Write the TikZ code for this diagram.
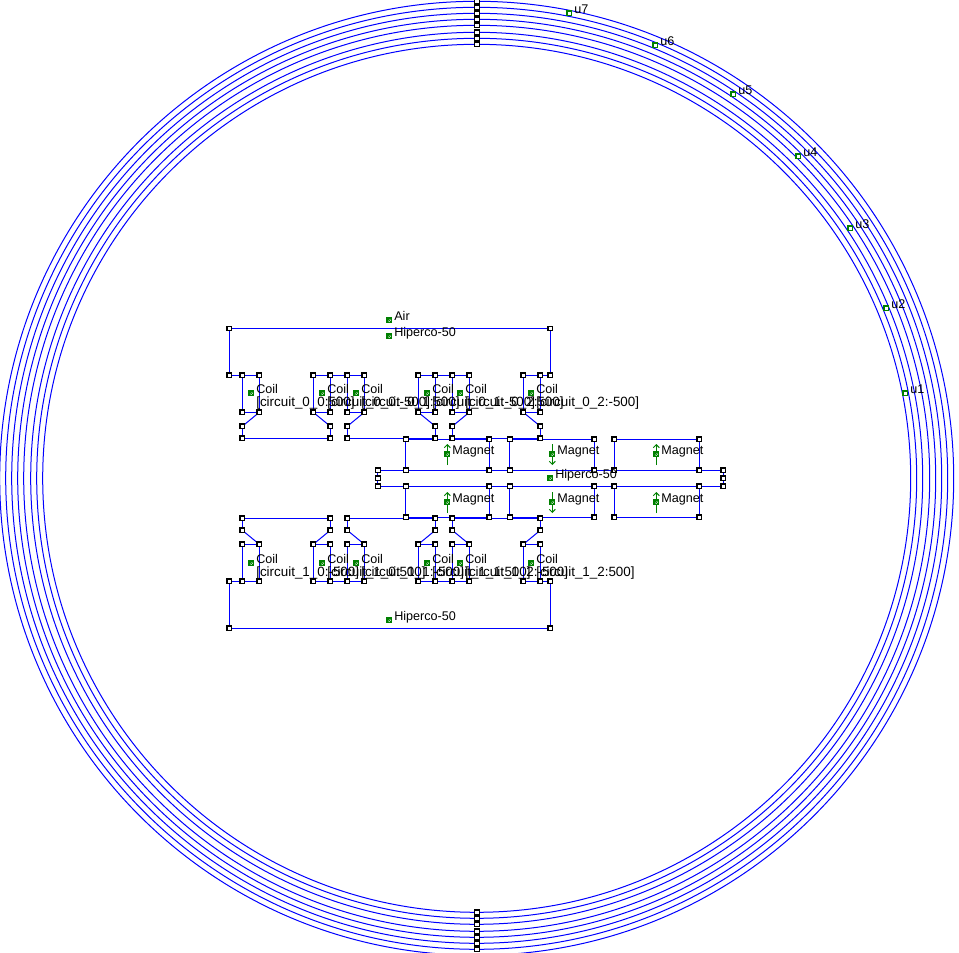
\documentclass[tikz,border=0pt]{standalone}
\usepackage{fontspec}
\setmainfont{Liberation Sans}
\usetikzlibrary{backgrounds,arrows.meta}
\definecolor{femmblue}{RGB}{0,0,255}
\definecolor{femmgreen}{RGB}{0,128,0}
\tikzset{
  vertex/.style={draw=black,fill=white,line width=1.1pt,rectangle,minimum size=4.7pt,inner sep=0pt,outer sep=0pt},
  edge/.style={draw=femmblue,line width=1pt},
  ring/.style={draw=femmblue,line width=1pt},
  blockmark/.style={draw=femmgreen,fill=white,line width=1.1pt,rectangle,minimum size=4.6pt,inner sep=0pt,outer sep=0pt,
    path picture={\draw[femmgreen,line width=0.8pt] (path picture bounding box.south west)--(path picture bounding box.north east)
      (path picture bounding box.south east)--(path picture bounding box.north west);}},
  bdrymark/.style={draw=femmgreen,fill=white,line width=1.1pt,rectangle,minimum size=4.7pt,inner sep=0pt,outer sep=0pt},
  lab/.style={anchor=base west,inner sep=0pt,outer sep=0pt,font=\fontsize{12.6}{13}\selectfont,text=black},
  circlab/.style={lab,font=\fontsize{13.4}{14}\selectfont},
  magarrow/.style={draw=femmgreen,line width=1pt,-{Straight Barb[length=3pt,width=6pt]}},
}
\begin{document}
\begin{tikzpicture}[x=1pt,y=-1pt]
\useasboundingbox (0,0) rectangle (959,953);
\clip (0,0) rectangle (959,953);
\coordinate (ctr) at (476.7,478.3);

% ring end points
\foreach \n/\y in {t1/44.3,t2/38.3,t3/32.3,t4/25.3,t5/19.3,t6/13.3,t7/7.3,t8/1.3,
                   s1/912.3,s2/918.3,s3/924.3,s4/931.3,s5/937.3,s6/943.3,s7/949.3}
  \node[vertex] (\n) at (476.7,\y) {};

% coil columns
\foreach \i/\x in {1/242.3,2/259.3,3/313.3,4/330.3,5/347.3,6/364.3,7/418.3,8/435.3,9/452.3,10/469.3,11/523.3,12/540.3}{
  \node[vertex] (a\i) at (\x,375.3) {};
  \node[vertex] (b\i) at (\x,412.3) {};
  \node[vertex] (e\i) at (\x,581.3) {};
  \node[vertex] (f\i) at (\x,544.3) {};
}
\foreach \i/\x in {1/242.3,4/330.3,5/347.3,8/435.3,9/452.3,12/540.3}{
  \node[vertex] (c\i) at (\x,426.3) {};
  \node[vertex] (d\i) at (\x,438.3) {};
  \node[vertex] (g\i) at (\x,530.3) {};
  \node[vertex] (h\i) at (\x,518.3) {};
}
% outer iron
\node[vertex] (tl) at (229.3,328.5) {};
\node[vertex] (tr) at (550.3,328.5) {};
\node[vertex] (tlb) at (229.3,375.3) {};
\node[vertex] (trb) at (550.3,375.3) {};
\node[vertex] (bl) at (229.3,628.3) {};
\node[vertex] (br) at (550.3,628.3) {};
\node[vertex] (blt) at (229.3,581.3) {};
\node[vertex] (brt) at (550.3,581.3) {};
% magnets
\foreach \i/\x in {1/405.7,2/489.3,3/509.7,4/594.3,5/614.3,6/699.3}{
  \node[vertex] (ma\i) at (\x,439.3) {};
  \node[vertex] (mb\i) at (\x,470.3) {};
  \node[vertex] (mc\i) at (\x,486.3) {};
  \node[vertex] (md\i) at (\x,517.3) {};
}
% centre iron
\node[vertex] (ha) at (377.7,470.3) {};
\node[vertex] (hb) at (377.7,478.3) {};
\node[vertex] (hc) at (377.7,486.3) {};
\node[vertex] (hd) at (723.3,470.3) {};
\node[vertex] (he) at (723.3,478.3) {};
\node[vertex] (hf) at (723.3,486.3) {};

% magnetisation arrows
\foreach \n/\x/\ya/\yb in {a/447.3/465/444,b/552.3/444/465,c/656.3/465/444,d/447.3/513/492,e/552.3/492/513,f/656.3/513/492}{
  \coordinate (as\n) at (\x,\ya);
  \coordinate (ae\n) at (\x,\yb);
  \draw[magarrow] (as\n) -- (ae\n);
}
% block labels
\foreach \n/\x/\y/\t in {
  air/389.3/320.3/Air,
  hipt/389.3/336.3/Hiperco-50,
  hipm/550.3/478.3/Hiperco-50,
  hipb/389.3/620.3/Hiperco-50,
  ma/447.3/454.3/Magnet,
  mb/552.3/454.3/Magnet,
  mc/656.3/454.3/Magnet,
  md/447.3/502.3/Magnet,
  me/552.3/502.3/Magnet,
  mf/656.3/502.3/Magnet}{
  \node[blockmark] (k\n) at (\x,\y) {};
  \node[lab] (l\n) at (\x+5,\y) {\t};
}
% coil labels
\foreach \n/\x/\t in {
  1/251.3/{[circuit\_0\_0:500]},
  2/322.3/{[circuit\_0\_0:-500]},
  3/356.3/{[circuit\_0\_1:500]},
  4/427.3/{[circuit\_0\_1:-500]},
  5/460.3/{[circuit\_0\_2:500]},
  6/531.3/{[circuit\_0\_2:-500]}}{
  \node[blockmark] (cu\n) at (\x,393.3) {};
  \node[lab] (cl\n) at (\x+5,393.3) {Coil};
  \node[circlab] (cm\n) at (\x+5,406.1) {\t};
}
\foreach \n/\x/\t in {
  1/251.3/{[circuit\_1\_0:-500]},
  2/322.3/{[circuit\_1\_0:500]},
  3/356.3/{[circuit\_1\_1:-500]},
  4/427.3/{[circuit\_1\_1:500]},
  5/460.3/{[circuit\_1\_2:-500]},
  6/531.3/{[circuit\_1\_2:500]}}{
  \node[blockmark] (dcu\n) at (\x,563.3) {};
  \node[lab] (dcl\n) at (\x+5,563.3) {Coil};
  \node[circlab] (dcm\n) at (\x+5,576.1) {\t};
}
% boundary labels
\foreach \t/\x/\y in {u1/905.3/393.3,u2/886.3/308.3,u3/850.3/228.3,u4/798.3/156.3,u5/733.3/94.3,u6/655.3/45.3,u7/569.3/13.3}{
  \node[bdrymark] (mk\t) at (\x,\y) {};
  \node[lab] (tx\t) at (\x+5,\y) {\t};
}

\begin{pgfonlayer}{background}
  \fill[white] (0,0) rectangle (959,953);
  \clip (0,0) rectangle (959,953);
  \foreach \r in {434,440,446,453,459,465,471,477}
    \draw[ring] (ctr) circle[radius=\r];
  \foreach \a/\b in {
    tl/tr,tl/tlb,tr/trb,tlb/a1,a1/a2,a3/a4,a4/a5,a5/a6,a7/a8,a8/a9,a9/a10,a11/a12,a12/trb,
    a1/b1,a2/b2,a3/b3,a4/b4,a5/b5,a6/b6,a7/b7,a8/b8,a9/b9,a10/b10,a11/b11,a12/b12,
    b1/b2,b3/b4,b5/b6,b7/b8,b9/b10,b11/b12,
    b2/c1,c1/d1,d1/d4,d4/c4,c4/b3,
    b6/c5,c5/d5,d5/d8,d8/c8,c8/b7,
    b10/c9,c9/d9,d9/d12,d12/c12,c12/b11,
    bl/br,bl/blt,br/brt,blt/e1,e1/e2,e3/e4,e4/e5,e5/e6,e7/e8,e8/e9,e9/e10,e11/e12,e12/brt,
    e1/f1,e2/f2,e3/f3,e4/f4,e5/f5,e6/f6,e7/f7,e8/f8,e9/f9,e10/f10,e11/f11,e12/f12,
    f1/f2,f3/f4,f5/f6,f7/f8,f9/f10,f11/f12,
    f2/g1,g1/h1,h1/h4,h4/g4,g4/f3,
    f6/g5,g5/h5,h5/h8,h8/g8,g8/f7,
    f10/g9,g9/h9,h9/h12,h12/g12,g12/f11,
    ma1/ma2,ma3/ma4,ma5/ma6,ma1/mb1,ma2/mb2,ma3/mb3,ma4/mb4,ma5/mb5,ma6/mb6,
    md1/md2,md3/md4,md5/md6,mc1/md1,mc2/md2,mc3/md3,mc4/md4,mc5/md5,mc6/md6,
    ha/hb,hb/hc,hd/he,he/hf,
    ha/mb1,mb1/mb2,mb2/mb3,mb3/mb4,mb4/mb5,mb5/mb6,mb6/hd,
    hc/mc1,mc1/mc2,mc2/mc3,mc3/mc4,mc4/mc5,mc5/mc6,mc6/hf}
    \draw[edge] (\a.center) -- (\b.center);
\end{pgfonlayer}
\end{tikzpicture}
\end{document}
